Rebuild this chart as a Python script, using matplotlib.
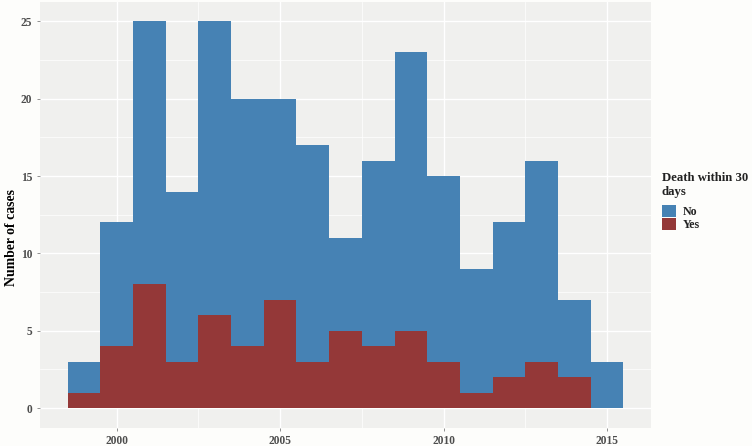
import matplotlib
matplotlib.use("Agg")
import matplotlib.pyplot as plt
from matplotlib.patches import Patch

years = [1999, 2000, 2001, 2002, 2003, 2004, 2005, 2006, 2007,
         2008, 2009, 2010, 2011, 2012, 2013, 2014, 2015]
deaths_yes = [1, 4, 8, 3, 6, 4, 7, 3, 5, 4, 5, 3, 1, 2, 3, 2, 0]
deaths_no = [2, 8, 17, 11, 19, 16, 13, 14, 6, 12, 18, 12, 8, 10, 13, 5, 3]

x_ticks = [2000, 2005, 2010, 2015]
y_ticks = [0, 5, 10, 15, 20, 25]

blue = "#4682B4"
red = "#943838"

plt.rcParams["font.family"] = ["Liberation Serif", "DejaVu Serif"]

fig = plt.figure(figsize=(7.52, 4.46), dpi=100, facecolor="#FDFDFB")
ax = fig.add_axes([40 / 752, 18.5 / 446, 611 / 752, 425.5 / 446])
ax.set_facecolor("#F0F0EE")

ax.bar(years, deaths_yes, width=1.0, color=red, linewidth=0, zorder=3)
ax.bar(years, deaths_no, width=1.0, bottom=deaths_yes, color=blue,
       linewidth=0, zorder=3)

ax.set_xlim(1997.65, 2016.35)
ax.set_ylim(-1.25, 26.25)
ax.set_xticks(x_ticks)
ax.set_yticks(y_ticks)
ax.set_xticks([2002.5, 2007.5, 2012.5], minor=True)
ax.set_yticks([2.5, 7.5, 12.5, 17.5, 22.5], minor=True)

ax.grid(which="major", color="white", linewidth=1.0, zorder=0)
ax.grid(which="minor", color="white", linewidth=0.5, zorder=0)
ax.set_axisbelow(True)

for s in ax.spines.values():
    s.set_visible(False)

ax.tick_params(which="major", length=2.5, width=0.6, color="#7F7F7F",
               labelsize=8.3, labelcolor="#4D4D4D", pad=3)
ax.tick_params(which="minor", length=0)
for lab in ax.get_xticklabels() + ax.get_yticklabels():
    lab.set_fontweight("bold")

fig.text(12 / 752, 1 - 238 / 446, "Number of cases", rotation=90,
         fontsize=9.9, fontweight="bold", color="black",
         ha="center", va="center")

# legend title drawn by hand for exact line placement
fig.text(662 / 752, 1 - 180.7 / 446, "Death within 30", fontsize=9.2,
         fontweight="bold", color="#222222", ha="left", va="baseline")
fig.text(662 / 752, 1 - 195 / 446, "days", fontsize=9.2,
         fontweight="bold", color="#222222", ha="left", va="baseline")

handles = [Patch(facecolor=blue, label="No"), Patch(facecolor=red, label="Yes")]
leg = fig.legend(handles=handles, loc="upper left",
                 bbox_to_anchor=(662 / 752, 1 - 205 / 446),
                 frameon=False, fontsize=8.6,
                 handlelength=1.17, handleheight=1.17, handletextpad=0.55,
                 labelspacing=0.0, borderaxespad=0, borderpad=0)
for t in leg.get_texts():
    t.set_fontweight("bold")
    t.set_color("#222222")

fig.savefig("out.png", dpi=100, facecolor=fig.get_facecolor())
